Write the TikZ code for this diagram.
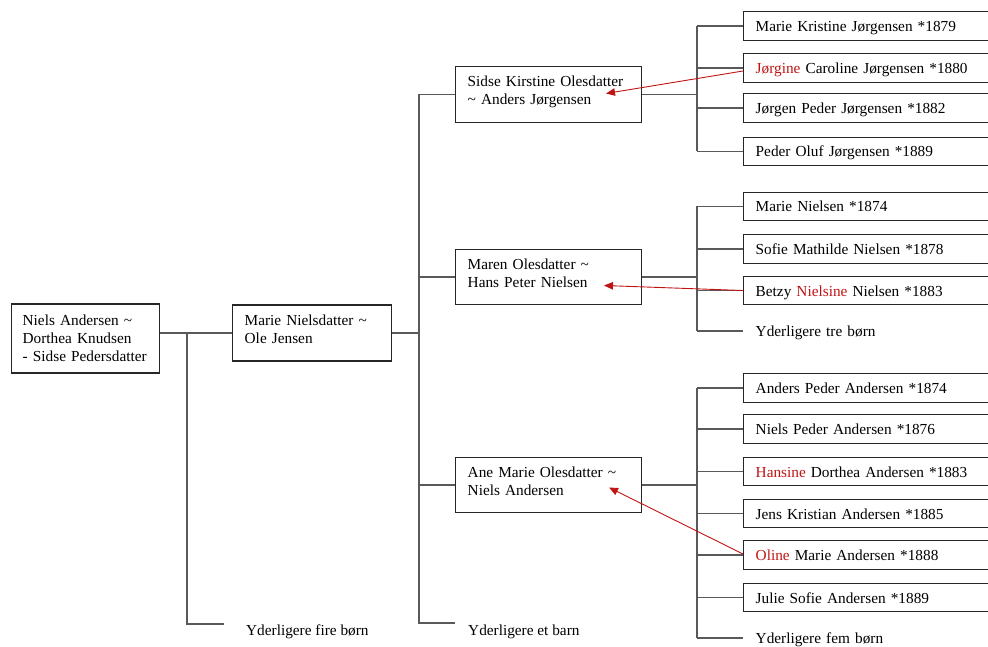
\documentclass[tikz,border=0pt]{standalone}
\usepackage{fontspec}
\setmainfont{Liberation Serif}
\usetikzlibrary{arrows.meta,calc}
\definecolor{dred}{RGB}{192,20,20}
\newcommand\lowstrut{\rule[-8.5pt]{0pt}{8.5pt}}
\newcommand\rd[1]{\textcolor{dred}{#1}}
\begin{document}
\begin{tikzpicture}[x=1pt,y=-1pt,
  txt/.style={font=\fontsize{15.3pt}{18pt}\selectfont},
  famnode/.style={txt, draw=black!85, line width=1.4pt, rectangle, anchor=west, align=left, inner xsep=12pt, inner ysep=0pt},
  midbox/.style={famnode, text width=162pt, minimum height=55.5pt},
  kidbox/.style={famnode, text width=250pt, minimum height=28.5pt, text height=11pt, text depth=0pt},
  kidtext/.style={kidbox, draw=none},
  connector/.style={draw=black!65, line width=1.1pt},
  redarrow/.style={draw=dred, line width=0.9pt, -{Triangle[length=9pt,width=7.5pt]}}]
\useasboundingbox (0,0) rectangle (988,647);
\clip (0,0) rectangle (988,647);

\coordinate (v1) at (187,0);
\coordinate (v2) at (419,0);
\coordinate (v3) at (697,0);

% generations 1 and 2
\node[famnode, inner xsep=11pt, text width=126pt, minimum height=69pt] (niels) at (11,338.5)
  {Niels Andersen \textasciitilde\\Dorthea Knudsen\\- Sidse Pedersdatter};
\node[famnode, text width=135pt, minimum height=56pt] (marie) at (232,333)
  {Marie Nielsdatter \textasciitilde\\Ole Jensen\lowstrut};
\node[txt, anchor=base west, inner sep=0pt] (fire) at (246,635) {Yderligere fire børn};

% generation 3
\node[midbox] (sidse) at (455,94.5) {Sidse Kirstine Olesdatter\\\textasciitilde\ Anders Jørgensen\lowstrut};
\node[midbox] (maren) at (455,277) {Maren Olesdatter \textasciitilde\\Hans Peter Nielsen\lowstrut};
\node[midbox] (ane) at (455,485) {Ane Marie Olesdatter \textasciitilde\\Niels Andersen\lowstrut};
\node[txt, anchor=base west, inner sep=0pt] (etbarn) at (468,635) {Yderligere et barn};

% generation 4
\node[kidbox] (mk) at (743,26) {Marie Kristine Jørgensen *1879};
\node[kidbox] (jorg) at (743,68) {\rd{Jørgine} Caroline Jørgensen *1880};
\node[kidbox] (jpeder) at (743,108) {Jørgen Peder Jørgensen *1882};
\node[kidbox] (poluf) at (743,151.5) {Peder Oluf Jørgensen *1889};

\node[kidbox] (mn) at (743,206.5) {Marie Nielsen *1874};
\node[kidbox] (sofie) at (743,249) {Sofie Mathilde Nielsen *1878};
\node[kidbox] (betzy) at (743,290.5) {Betzy \rd{Nielsine} Nielsen *1883};
\node[kidtext] (tre) at (743,331) {Yderligere tre børn};

\node[kidbox] (apeder) at (743,388) {Anders Peder Andersen *1874};
\node[kidbox] (npeder) at (743,429) {Niels Peder Andersen *1876};
\node[kidbox] (hansine) at (743,471.5) {\rd{Hansine} Dorthea Andersen *1883};
\node[kidbox] (jens) at (743,513.5) {Jens Kristian Andersen *1885};
\node[kidbox] (oline) at (743,555) {\rd{Oline} Marie Andersen *1888};
\node[kidbox] (julie) at (743,597.5) {Julie Sofie Andersen *1889};
\node[kidtext] (fem) at (743,638) {Yderligere fem børn};

% connectors
\coordinate (fireend) at ($(fire.base west)+(-22,-11)$);
\coordinate (etend) at ($(etbarn.base west)+(-13,-12)$);

\draw[connector] (niels.east |- marie.west) -- (marie.west);
\draw[connector] (v1 |- marie.west) |- (fireend);

\draw[connector] (marie.east) -- (v2 |- marie.east);
\draw[connector] (v2 |- sidse.west) -- (v2 |- etend) -- (etend);
\foreach \m in {sidse,maren,ane} \draw[connector] (v2 |- \m.west) -- (\m.west);

\draw[connector] (sidse.east) -- (v3 |- sidse.east);
\draw[connector] (maren.east) -- (v3 |- maren.east);
\draw[connector] (ane.east) -- (v3 |- ane.east);
\draw[connector] (v3 |- mk.west) -- (v3 |- poluf.west);
\draw[connector] (v3 |- mn.west) -- (v3 |- tre.west);
\draw[connector] (v3 |- apeder.west) -- (v3 |- fem.west);
\foreach \k in {mk,jorg,jpeder,poluf,mn,sofie,betzy,tre,apeder,npeder,hansine,jens,oline,julie,fem}
  \draw[connector] (v3 |- \k.west) -- (\k.west);

% red arrows
\coordinate (t1) at (606,93.5);
\coordinate (t2) at (604,285.5);
\coordinate (t3) at (609,487.5);
\draw[redarrow] ($(jorg.west)+(0,3)$) -- (t1);
\draw[redarrow] (betzy.west) -- (t2);
\draw[redarrow] ($(oline.west)+(0,-1)$) -- (t3);
\end{tikzpicture}
\end{document}
